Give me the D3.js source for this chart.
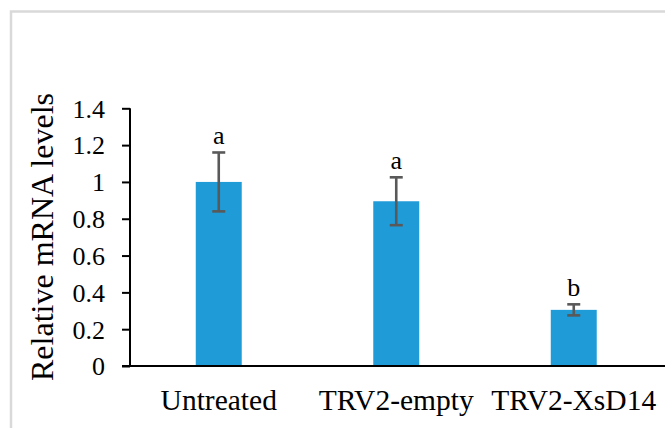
<!DOCTYPE html>
<html>
<head>
<meta charset="utf-8">
<script src="https://cdn.jsdelivr.net/npm/d3@7"></script>
<style>
  html, body { margin: 0; padding: 0; background: #fff; }
  svg { display: block; }
</style>
</head>
<body>
<svg id="chart" width="665" height="428"></svg>
<script>
// Relative expression of XsD14 after virus-induced gene silencing
const categories = ["Untreated", "TRV2-empty", "TRV2-XsD14"];
const means = [1.0, 0.895, 0.305];
const errors = [0.16, 0.13, 0.03];
const letters = ["a", "a", "b"];
const yTicks = [0, 0.2, 0.4, 0.6, 0.8, 1.0, 1.2, 1.4];
const yTickLabels = ["0", "0.2", "0.4", "0.6", "0.8", "1", "1.2", "1.4"];

const serif = "'Liberation Serif', 'Times New Roman', serif";
const svg = d3.select("#chart");

// light frame around the chart area
svg.append("rect")
  .attr("x", 11).attr("y", 11.5)
  .attr("width", 700).attr("height", 500)
  .attr("fill", "none")
  .attr("stroke", "#d9d9d9")
  .attr("stroke-width", 2.5);

const plot = { left: 130, right: 662.5, top: 108.3, bottom: 366 };

const x = d3.scaleBand()
  .domain(categories)
  .range([plot.left, plot.right])
  .paddingInner(0.741)
  .paddingOuter(0.3705);

const y = d3.scaleLinear()
  .domain([0, 1.4])
  .range([plot.bottom, plot.top]);

// bars
svg.append("g").selectAll("rect")
  .data(categories)
  .join("rect")
  .attr("x", d => x(d))
  .attr("width", x.bandwidth())
  .attr("y", (d, i) => y(means[i]))
  .attr("height", (d, i) => y(0) - y(means[i]))
  .attr("fill", "#1f9bd8");

// error bars
const capHalf = 6.5;
const eb = svg.append("g")
  .attr("stroke", "#595959")
  .attr("stroke-width", 2.6)
  .attr("fill", "none");
categories.forEach((c, i) => {
  const cx = x(c) + x.bandwidth() / 2;
  const hi = y(means[i] + errors[i]);
  const lo = y(means[i] - errors[i]);
  eb.append("line").attr("x1", cx).attr("x2", cx).attr("y1", hi).attr("y2", lo);
  eb.append("line").attr("x1", cx - capHalf).attr("x2", cx + capHalf).attr("y1", hi).attr("y2", hi);
  eb.append("line").attr("x1", cx - capHalf).attr("x2", cx + capHalf).attr("y1", lo).attr("y2", lo);
});

// significance letters
svg.append("g").selectAll("text")
  .data(categories)
  .join("text")
  .attr("x", d => x(d) + x.bandwidth() / 2)
  .attr("y", (d, i) => y(means[i] + errors[i]) - 8)
  .attr("text-anchor", "middle")
  .style("font-family", serif)
  .style("font-size", "26px")
  .attr("fill", "#000")
  .text((d, i) => letters[i]);

// y axis
const yAxis = d3.axisLeft(y)
  .tickValues(yTicks)
  .tickFormat((d, i) => yTickLabels[i])
  .tickSize(8)
  .tickPadding(17);
const gy = svg.append("g")
  .attr("transform", `translate(${plot.left},0)`)
  .call(yAxis);
gy.select(".domain").attr("stroke", "#000").attr("stroke-width", 2).attr("d", `M0,${plot.top}V${plot.bottom}`);
gy.selectAll(".tick line").attr("stroke", "#000").attr("stroke-width", 2);
gy.selectAll(".tick text")
  .style("font-family", serif)
  .style("font-size", "26px")
  .attr("dy", "0.34em")
  .attr("fill", "#000");

// x axis baseline
const xAxis = d3.axisBottom(x).tickSize(0).tickPadding(23);
const gx = svg.append("g")
  .attr("transform", `translate(0,${plot.bottom})`)
  .call(xAxis);
gx.select(".domain").attr("stroke", "#000").attr("stroke-width", 2)
  .attr("d", `M${plot.left - 8},0H${plot.right + 5}`);
gx.selectAll(".tick text")
  .style("font-family", serif)
  .style("font-size", "29.5px")
  .attr("dy", "0.71em")
  .attr("fill", "#000");

// y axis title
svg.append("text")
  .attr("transform", `translate(53,${(90 + 384) / 2}) rotate(-90)`)
  .attr("text-anchor", "middle")
  .style("font-family", serif)
  .style("font-size", "32px")
  .attr("fill", "#000")
  .text("Relative mRNA levels");
</script>
</body>
</html>
